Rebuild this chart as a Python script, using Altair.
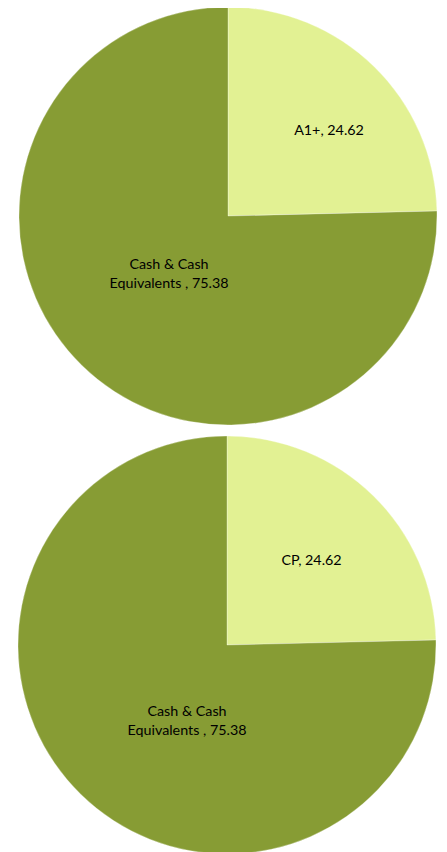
import altair as alt
import pandas as pd

# Data
top_categories = ["A1+", "Cash & Cash Equivalents "]
top_values = [24.62, 75.38]
bottom_categories = ["CP", "Cash & Cash Equivalents "]
bottom_values = [24.62, 75.38]

LIGHT = "#E2F193"
DARK = "#879C34"

top_df = pd.DataFrame({"category": top_categories, "value": top_values,
                       "order": list(range(len(top_values))),
                       "kind": ["small", "cash"]})
bottom_df = pd.DataFrame({"category": bottom_categories, "value": bottom_values,
                          "order": list(range(len(bottom_values))),
                          "kind": ["small", "cash"]})

color = alt.Color("kind:N", scale=alt.Scale(domain=["small", "cash"], range=[LIGHT, DARK]), legend=None)

R = 209

def pie(df, cx, cy):
    return alt.Chart(df).mark_arc(radius=R, stroke="#ffffff", strokeWidth=0.6, strokeOpacity=0.5).encode(
        theta=alt.Theta("value:Q", stack=True),
        order=alt.Order("order:Q"),
        color=color,
        x=alt.value(cx),
        y=alt.value(cy),
    )

def label(df, idx, lines, px, py):
    d = df.iloc[[idx]].copy()
    d["label"] = [lines]
    return alt.Chart(d).mark_text(font="Lato", fontSize=14.3, color="#000000",
                                  align="center", baseline="middle", lineHeight=19).encode(
        text=alt.Text("label"),
        x=alt.value(px),
        y=alt.value(py),
    )

top_pie = pie(top_df, 220, 208)
bottom_pie = pie(bottom_df, 219, 637)

t1 = label(top_df, 0, [f"{top_categories[0]}, {top_values[0]:.2f}"], 321, 123)
t2 = label(top_df, 1, ["Cash & Cash", f"Equivalents , {top_values[1]:.2f}"], 161, 257)
b1 = label(bottom_df, 0, [f"{bottom_categories[0]}, {bottom_values[0]:.2f}"], 303.5, 553)
b2 = label(bottom_df, 1, ["Cash & Cash", f"Equivalents , {bottom_values[1]:.2f}"], 179, 704)

chart = alt.layer(top_pie, bottom_pie, t1, t2, b1, b2).properties(
    width=431, height=844, autosize=alt.AutoSizeParams(type="none"), padding=0
).configure_view(stroke=None)

chart.save("out.html", embed_options={"renderer": "svg", "actions": False})
